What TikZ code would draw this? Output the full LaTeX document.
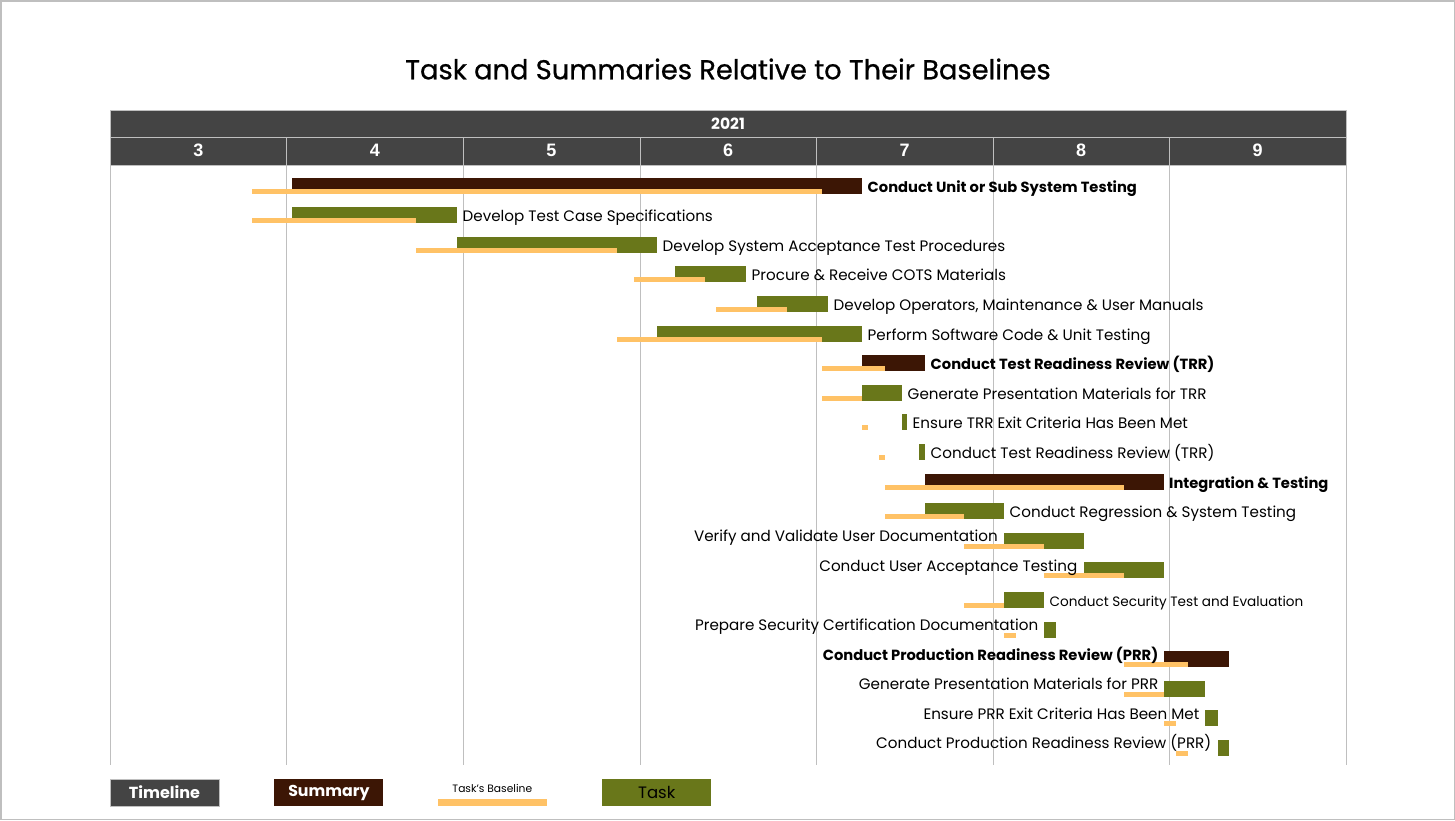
\documentclass[tikz,border=0pt]{standalone}
\usepackage{fontspec}
\setmainfont{Poppins}
\newfontfamily\headfont{Liberation Sans}
\newfontfamily\titlefont{Poppins}[FakeBold=0.7]
\usepackage{xcolor}
\usetikzlibrary{positioning}
\definecolor{timelinegray}{HTML}{444444}
\definecolor{summarybrown}{HTML}{3C1605}
\definecolor{taskgreen}{HTML}{69771A}
\definecolor{baselineorange}{HTML}{FFC266}
\definecolor{gridgray}{HTML}{BFBFBF}

\begin{document}
\begin{tikzpicture}[x=1pt, y=-1pt,
    summary/.style={fill=summarybrown},
    task/.style={fill=taskgreen},
    baseline/.style={fill=baselineorange},
    tasklabel/.style={inner sep=0pt, text=black, font=\fontsize{15.15}{17}\selectfont},
    sumlabel/.style={inner sep=0pt, text=black, font=\fontsize{14.7}{17}\selectfont\bfseries},
    month/.style={text=white, font=\headfont\fontsize{18}{20}\selectfont\bfseries},
    legendbox/.style={minimum width=109pt, minimum height=27pt, inner sep=0pt}]
\useasboundingbox (0,0) rectangle (1455,820);
\fill[white] (0,0) rectangle (1455,820);
\draw[gridgray, line width=1.5pt] (0.75,0.75) rectangle (1454.25,819.25);

\node[font=\titlefont\fontsize{27.3}{32}\selectfont] (title) at (728,69) {Task and Summaries Relative to Their Baselines};

\fill[timelinegray] (110,110) rectangle (1346,165);
\draw[gridgray] (110,110) rectangle (1346,165);
\draw[gridgray] (110,137.5) -- (1346,137.5);
\draw[gridgray] (110,137.5) -- (110,765);
\draw[gridgray] (286.6,137.5) -- (286.6,765);
\draw[gridgray] (463.1,137.5) -- (463.1,765);
\draw[gridgray] (639.7,137.5) -- (639.7,765);
\draw[gridgray] (816.3,137.5) -- (816.3,765);
\draw[gridgray] (992.9,137.5) -- (992.9,765);
\draw[gridgray] (1169.4,137.5) -- (1169.4,765);
\draw[gridgray] (1346,137.5) -- (1346,765);
\node[month, font=\fontsize{15.5}{17}\selectfont\bfseries] (year) at (728,123.5) {2021};
\node[month] (m3) at (198.3,150.5) {3};
\node[month] (m4) at (374.9,150.5) {4};
\node[month] (m5) at (551.4,150.5) {5};
\node[month] (m6) at (728,150.5) {6};
\node[month] (m7) at (904.6,150.5) {7};
\node[month] (m8) at (1081.1,150.5) {8};
\node[month] (m9) at (1257.7,150.5) {9};

\fill[summary] (292,177.5) rectangle (862,193.5);
\fill[baseline] (252,188.5) rectangle (822,193.5);
\node[sumlabel, anchor=base west] (unittest) at (867.5,192) {Conduct Unit or Sub System Testing};

\fill[task] (292,207.1) rectangle (457,223.1);
\fill[baseline] (252,218.1) rectangle (416,223.1);
\node[tasklabel, anchor=base west] (testcase) at (462.5,221.6) {Develop Test Case Specifications};

\fill[task] (457,236.7) rectangle (657,252.7);
\fill[baseline] (416,247.7) rectangle (617,252.7);
\node[tasklabel, anchor=base west] (acceptproc) at (662.5,251.2) {Develop System Acceptance Test Procedures};

\fill[task] (675,266.3) rectangle (746,282.3);
\fill[baseline] (634,277.3) rectangle (705,282.3);
\node[tasklabel, anchor=base west] (cots) at (751.5,280.8) {Procure \& Receive COTS Materials};

\fill[task] (757,295.9) rectangle (828,311.9);
\fill[baseline] (716,306.9) rectangle (787,311.9);
\node[tasklabel, anchor=base west] (manuals) at (833.5,310.4) {Develop Operators, Maintenance \& User Manuals};

\fill[task] (657,325.5) rectangle (862,341.5);
\fill[baseline] (617,336.5) rectangle (822,341.5);
\node[tasklabel, anchor=base west] (swcode) at (867.5,340) {Perform Software Code \& Unit Testing};

\fill[summary] (862,355.1) rectangle (925,371.1);
\fill[baseline] (822,366.1) rectangle (885,371.1);
\node[sumlabel, anchor=base west] (trrsum) at (930.5,369.6) {Conduct Test Readiness Review (TRR)};

\fill[task] (862,384.7) rectangle (902,400.7);
\fill[baseline] (822,395.7) rectangle (862,400.7);
\node[tasklabel, anchor=base west] (trrpres) at (907.5,399.2) {Generate Presentation Materials for TRR};

\fill[task] (902,414.3) rectangle (907,430.3);
\fill[baseline] (862,425.3) rectangle (868,430.3);
\node[tasklabel, anchor=base west] (trrexit) at (912.5,428.8) {Ensure TRR Exit Criteria Has Been Met};

\fill[task] (919,443.9) rectangle (925,459.9);
\fill[baseline] (879,454.9) rectangle (885,459.9);
\node[tasklabel, anchor=base west] (trrtask) at (930.5,458.4) {Conduct Test Readiness Review (TRR)};

\fill[summary] (925,473.5) rectangle (1163.5,489.5);
\fill[baseline] (885,484.5) rectangle (1123.5,489.5);
\node[sumlabel, anchor=base west] (integration) at (1169,488) {Integration \& Testing};

\fill[task] (925,503.1) rectangle (1004,519.1);
\fill[baseline] (885,514.1) rectangle (964,519.1);
\node[tasklabel, anchor=base west] (regression) at (1009.5,517.6) {Conduct Regression \& System Testing};

\fill[task] (1004,532.7) rectangle (1083.5,548.7);
\fill[baseline] (964,543.7) rectangle (1043.5,548.7);
\node[tasklabel, anchor=base east] (userdoc) at (998,541.7) {Verify and Validate User Documentation};

\fill[task] (1083.5,562.3) rectangle (1163.5,578.3);
\fill[baseline] (1043.5,573.3) rectangle (1123.5,578.3);
\node[tasklabel, anchor=base east] (useraccept) at (1077.5,571.3) {Conduct User Acceptance Testing};

\fill[task] (1004,591.9) rectangle (1044,607.9);
\fill[baseline] (964,602.9) rectangle (1004,607.9);
\node[tasklabel, anchor=base west, font=\fontsize{13.6}{15}\selectfont] (security) at (1049.5,606.5) {Conduct Security Test and Evaluation};

\fill[task] (1044,621.5) rectangle (1056,637.5);
\fill[baseline] (1004,632.5) rectangle (1016,637.5);
\node[tasklabel, anchor=base east] (certdoc) at (1038.5,630.5) {Prepare Security Certification Documentation};

\fill[summary] (1164,651.1) rectangle (1229,667.1);
\fill[baseline] (1124,662.1) rectangle (1188,667.1);
\node[sumlabel, anchor=base east] (prrsum) at (1158.5,660.5) {Conduct Production Readiness Review (PRR)};

\fill[task] (1164,680.7) rectangle (1205,696.7);
\fill[baseline] (1124,691.7) rectangle (1164,696.7);
\node[tasklabel, anchor=base east] (prrpres) at (1158.5,689.5) {Generate Presentation Materials for PRR};

\fill[task] (1205,710.3) rectangle (1217.5,726.3);
\fill[baseline] (1164,721.3) rectangle (1176,726.3);
\node[tasklabel, anchor=base east] (prrexit) at (1199.5,719.1) {Ensure PRR Exit Criteria Has Been Met};

\fill[task] (1217.5,739.9) rectangle (1228.5,755.9);
\fill[baseline] (1176,750.9) rectangle (1188,755.9);
\node[tasklabel, anchor=base east] (prrtask) at (1211.5,748.7) {Conduct Production Readiness Review (PRR)};

\node[legendbox, draw=gridgray, fill=timelinegray, text=white, font=\fontsize{16}{18}\selectfont\bfseries] (timelinekey) at (164.5,792.5) {Timeline};
\node[legendbox, fill=summarybrown, text=white, font=\fontsize{15.8}{18}\selectfont\bfseries, right=55pt of timelinekey] (summarykey) {Summary};
\node[legendbox, right=54pt of summarykey] (baselinekey) {};
\fill[baseline] ([yshift=-6.5pt]baselinekey.west) rectangle (baselinekey.south east);
\node[font=\fontsize{10.7}{12}\selectfont] (baselinetext) at ([yshift=4.5pt]baselinekey.center) {Task’s Baseline};
\node[legendbox, fill=taskgreen, text=black, font=\fontsize{16.5}{18}\selectfont, right=55pt of baselinekey] (taskkey) {Task};
\end{tikzpicture}
\end{document}
